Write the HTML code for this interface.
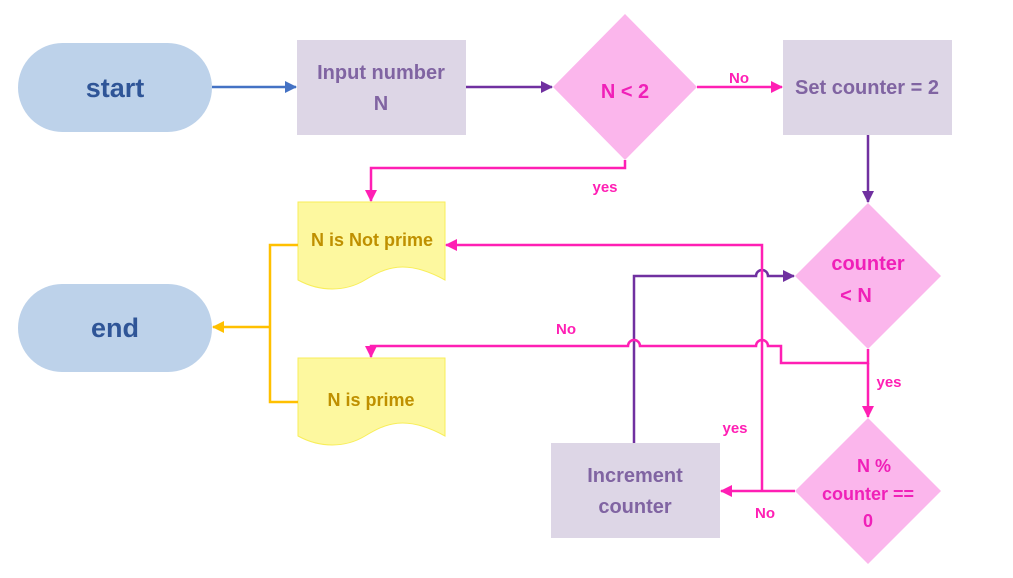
<!DOCTYPE html>
<html><head><meta charset="utf-8"><style>html,body{margin:0;padding:0;background:#fff}svg{display:block}text{font-family:"Liberation Sans",sans-serif;font-weight:bold}</style></head><body>
<svg width="1013" height="578" viewBox="0 0 1013 578" xmlns="http://www.w3.org/2000/svg">
<defs>
<marker id="ab" markerWidth="12" markerHeight="12" refX="11" refY="6" orient="auto" markerUnits="userSpaceOnUse"><path d="M0,0 L12,6 L0,12z" fill="#4472c4"/></marker>
<marker id="ap" markerWidth="12" markerHeight="12" refX="11" refY="6" orient="auto" markerUnits="userSpaceOnUse"><path d="M0,0 L12,6 L0,12z" fill="#7030a0"/></marker>
<marker id="ak" markerWidth="12" markerHeight="12" refX="11" refY="6" orient="auto" markerUnits="userSpaceOnUse"><path d="M0,0 L12,6 L0,12z" fill="#ff1fb4"/></marker>
<marker id="ay" markerWidth="12" markerHeight="12" refX="11" refY="6" orient="auto" markerUnits="userSpaceOnUse"><path d="M0,0 L12,6 L0,12z" fill="#ffc000"/></marker>
</defs>
<rect x="18" y="43" width="194" height="89" rx="44.5" fill="#bdd2ea"/>
<rect x="18" y="284" width="194" height="88" rx="44" fill="#bdd2ea"/>
<rect x="297" y="40" width="169" height="95" fill="#ddd6e6"/>
<rect x="783" y="40" width="169" height="95" fill="#ddd6e6"/>
<rect x="551" y="443" width="169" height="95" fill="#ddd6e6"/>
<polygon points="625,14 697,87 625,160 553,87" fill="#fbb6ec"/>
<polygon points="868,203 941,276 868,349 795,276" fill="#fbb6ec"/>
<polygon points="868,418 941,491 868,564 795,491" fill="#fbb6ec"/>
<path d="M298,202 H445 V280 C405,258 385,268 365,280 C345,292 320,292 298,280 Z" fill="#fdf89f" stroke="#f8ee5a" stroke-width="1"/>
<path d="M298,358 H445 V436 C405,414 385,424 365,436 C345,448 320,448 298,436 Z" fill="#fdf89f" stroke="#f8ee5a" stroke-width="1"/>
<g fill="none" stroke-width="2.5">
<path d="M212,87 H296" stroke="#4472c4" marker-end="url(#ab)"/>
<path d="M466,87 H552" stroke="#7030a0" marker-end="url(#ap)"/>
<path d="M697,87 H782" stroke="#ff1fb4" marker-end="url(#ak)"/>
<path d="M625,160 V168 H371 V201" stroke="#ff1fb4" marker-end="url(#ak)"/>
<path d="M868,135 V202" stroke="#7030a0" marker-end="url(#ap)"/>
<path d="M634,443 V276 H756 A6,6 0 0 1 768,276 H794" stroke="#7030a0" marker-end="url(#ap)"/>
<path d="M795,491 H721" stroke="#ff1fb4" marker-end="url(#ak)"/>
<path d="M762,491 V245 H446" stroke="#ff1fb4" marker-end="url(#ak)"/>
<path d="M868,349 V363 H781 V346 H768 A6,6 0 0 0 756,346 H640 A6,6 0 0 0 628,346 H371 V357" stroke="#ff1fb4" marker-end="url(#ak)"/>
<path d="M868,363 V417" stroke="#ff1fb4" marker-end="url(#ak)"/>
<path d="M298,245 H270 V402 H298 M270,327 H213" stroke="#ffc000" marker-end="url(#ay)"/>
</g>
<g text-anchor="middle">
<text x="115" y="97" font-size="27" fill="#2f5597">start</text>
<text x="115" y="337" font-size="27" fill="#2f5597">end</text>
<text x="381" y="79" font-size="20" fill="#8064a2">Input number</text>
<text x="381" y="110" font-size="20" fill="#8064a2">N</text>
<text x="867" y="94" font-size="20" fill="#8064a2">Set counter = 2</text>
<text x="635" y="482" font-size="20" fill="#8064a2">Increment</text>
<text x="635" y="513" font-size="20" fill="#8064a2">counter</text>
<text x="625" y="98" font-size="20" fill="#f020b8">N &lt; 2</text>
<text x="868" y="270" font-size="20" fill="#f020b8">counter</text>
<text x="856" y="302" font-size="20" fill="#f020b8">&lt; N</text>
<text x="874" y="472" font-size="18" fill="#f020b8">N %</text>
<text x="868" y="500" font-size="18" fill="#f020b8">counter ==</text>
<text x="868" y="527" font-size="18" fill="#f020b8">0</text>
<text x="372" y="246" font-size="18" fill="#bf9000">N is Not prime</text>
<text x="371" y="406" font-size="18" fill="#bf9000">N is prime</text>
<text x="739" y="83" font-size="15" fill="#ff1fb4">No</text>
<text x="605" y="192" font-size="15" fill="#ff1fb4">yes</text>
<text x="566" y="334" font-size="15" fill="#ff1fb4">No</text>
<text x="889" y="387" font-size="15" fill="#ff1fb4">yes</text>
<text x="735" y="433" font-size="15" fill="#ff1fb4">yes</text>
<text x="765" y="518" font-size="15" fill="#ff1fb4">No</text>
</g>
</svg>
</body></html>
